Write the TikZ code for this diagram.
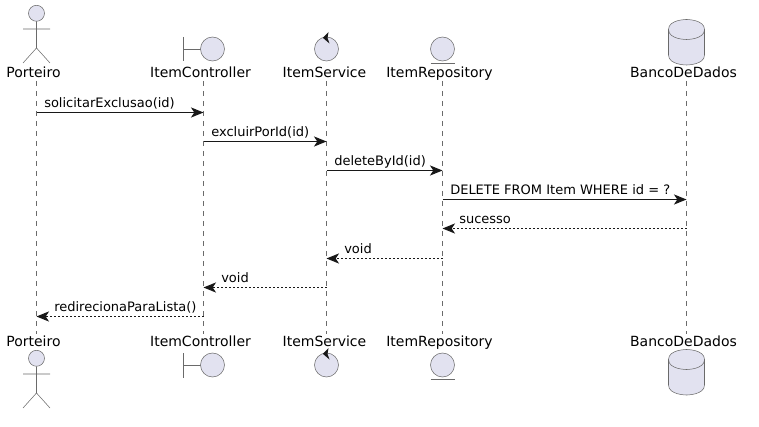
\documentclass[tikz,border=0pt]{standalone}
\usepackage{fontspec}
\setmainfont{DejaVu Sans}
\usetikzlibrary{arrows.meta}
\definecolor{pfill}{HTML}{E2E2F0}
\definecolor{pline}{HTML}{181818}
\definecolor{pthin}{HTML}{6A6A6A}
\tikzset{
  x=0.75pt,y=-0.75pt,
  shapeline/.style={draw=pthin,line width=0.4pt,fill=pfill},
  strokeline/.style={draw=pthin,line width=0.4pt},
  lifeline/.style={draw=pthin,line width=0.4pt,dash pattern=on 3.75pt off 3.75pt},
  syncmsg/.style={draw=pline,line width=0.75pt,-{Stealth[length=9.4pt,width=7.6pt,inset=2.5pt,fill=pline]}},
  retmsg/.style={syncmsg,dash pattern=on 1.5pt off 1.5pt,-{Stealth[length=9.4pt,width=7.6pt,inset=2.5pt,fill=pline]}},
  plabel/.style={inner sep=0pt,anchor=base,font=\fontsize{10.5pt}{12pt}\selectfont,text=black},
  mlabel/.style={inner sep=0pt,anchor=base west,font=\fontsize{9.75pt}{12pt}\selectfont,text=black},
}
\begin{document}
\begin{tikzpicture}
\useasboundingbox (0,0) rectangle (759,427);
% participant labels
\node[plabel] (pT) at (33.5,78) {Porteiro};
\node[plabel] (cT) at (200.5,78) {ItemController};
\node[plabel] (sT) at (324.5,78) {ItemService};
\node[plabel] (rT) at (439.5,78) {ItemRepository};
\node[plabel] (dT) at (683.5,78) {BancoDeDados};
\node[plabel] (pB) at (33.5,346) {Porteiro};
\node[plabel] (cB) at (200.5,346) {ItemController};
\node[plabel] (sB) at (324.5,346) {ItemService};
\node[plabel] (rB) at (439.5,346) {ItemRepository};
\node[plabel] (dB) at (683.5,346) {BancoDeDados};
% lifelines
\foreach \n/\x in {p/36.5,c/203.5,s/326.5,r/442.5,d/686.5}{
  \coordinate (\n0) at (\x,81);
  \coordinate (\n9) at (\x,334);
  \draw[lifeline] (\n0) -- (\n9);
  \foreach \k/\y in {1/112.5,2/141.5,3/170.5,4/199.5,5/228.5,6/258.5,7/287.5,8/316.5}{
    \coordinate (\n m\k) at (\x,\y);
  }
}
% messages
\draw[syncmsg] (pm1) -- (cm1);
\draw[syncmsg] (cm2) -- (sm2);
\draw[syncmsg] (sm3) -- (rm3);
\draw[syncmsg] (rm4) -- (dm4);
\draw[retmsg] (dm5) -- (rm5);
\draw[retmsg] (rm6) -- (sm6);
\draw[retmsg] (sm7) -- (cm7);
\draw[retmsg] (cm8) -- (pm8);
\node[mlabel] (t1) at (44,107.5) {solicitarExclusao(id)};
\node[mlabel] (t2) at (211,136.5) {excluirPorId(id)};
\node[mlabel] (t3) at (334,165.5) {deleteById(id)};
\node[mlabel] (t4) at (450,194.5) {DELETE FROM Item WHERE id = ?};
\node[mlabel] (t5) at (459,223.5) {sucesso};
\node[mlabel] (t6) at (344,253) {void};
\node[mlabel] (t7) at (221,282) {void};
\node[mlabel] (t8) at (54,311.5) {redirecionaParaLista()};
% actor
\foreach \yy in {0,345}{
  \begin{scope}[yshift=-0.75pt*\yy]
    \draw[shapeline] (36.5,13.3) circle[radius=6pt];
    \draw[strokeline] (36.5,21.5) -- (36.5,48) (23,29) -- (50,29) (23,63) -- (36.5,48) -- (50,63);
  \end{scope}
}
% boundary, control, entity
\foreach \yy in {0,316}{
  \begin{scope}[yshift=-0.75pt*\yy]
    \draw[strokeline] (183.5,37) -- (183.5,61.5) (183.5,49) -- (200.5,49);
    \draw[shapeline] (212.5,49) circle[radius=9pt];
    \draw[shapeline] (326.5,49) circle[radius=9pt];
    \fill[pline] (328.5,32) -- (322.8,37.8) -- (329.5,43.5) -- (327.5,38) -- cycle;
    \draw[shapeline] (442.5,49) circle[radius=9pt];
    \draw[strokeline] (430.5,63) -- (454.5,63);
  \end{scope}
}
% database
\foreach \yy in {0,330}{
  \begin{scope}[yshift=-0.75pt*\yy]
    \draw[shapeline] (668.5,29.5) .. controls (668.5,19.5) and (686.5,19.5) .. (686.5,19.5)
      .. controls (686.5,19.5) and (704.5,19.5) .. (704.5,29.5)
      -- (704.5,55) .. controls (704.5,65) and (686.5,65) .. (686.5,65)
      .. controls (686.5,65) and (668.5,65) .. (668.5,55) -- cycle;
    \draw[strokeline] (668.5,29.5) .. controls (668.5,39.5) and (686.5,39.5) .. (686.5,39.5)
      .. controls (686.5,39.5) and (704.5,39.5) .. (704.5,29.5);
  \end{scope}
}
\end{tikzpicture}
\end{document}
